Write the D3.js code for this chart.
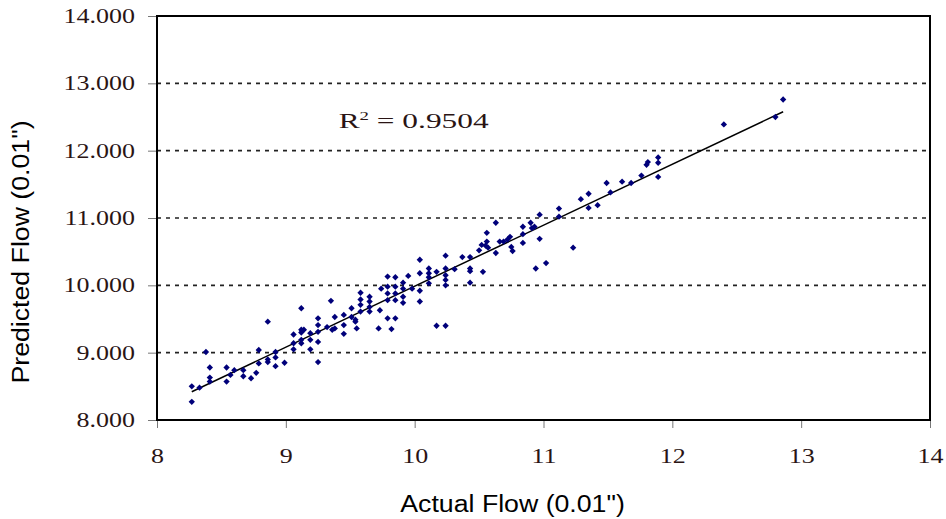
<!DOCTYPE html>
<html>
<head>
<meta charset="utf-8">
<script src="https://cdn.jsdelivr.net/npm/d3@7"></script>
<style>
  body { margin: 0; background: #fff; }
  svg { display: block; }
</style>
</head>
<body>
<div id="chart"></div>
<script>
// actual vs predicted flow
var actual = [8.27, 8.27, 8.33, 8.38, 8.41, 8.41, 8.41, 8.54, 8.54, 8.57,
    8.60, 8.67, 8.67, 8.73, 8.77, 8.79, 8.79, 8.86, 8.86, 8.86,
    8.92, 8.92, 8.92, 8.99, 9.06, 9.06, 9.06, 9.12, 9.12, 9.12,
    9.14, 9.12, 9.12, 9.19, 9.19, 9.19, 9.25, 9.25, 9.25, 9.25,
    9.25, 9.32, 9.35, 9.36, 9.38, 9.38, 9.45, 9.45, 9.45, 9.51,
    9.51, 9.54, 9.54, 9.55, 9.58, 9.58, 9.58, 9.58, 9.65, 9.65,
    9.65, 9.65, 9.72, 9.73, 9.74, 9.79, 9.79, 9.79, 9.79, 9.79,
    9.82, 9.85, 9.85, 9.85, 9.85, 9.85, 9.91, 9.91, 9.91, 9.91,
    9.95, 9.98, 10.04, 10.04, 10.04, 10.04, 10.11, 10.11, 10.11, 10.11,
    10.17, 10.17, 10.24, 10.24, 10.24, 10.24, 10.24, 10.24, 10.31, 10.37,
    10.43, 10.43, 10.43, 10.43, 10.50, 10.52, 10.55, 10.53, 10.56, 10.56,
    10.57, 10.63, 10.63, 10.66, 10.69, 10.72, 10.74, 10.75, 10.76, 10.84,
    10.84, 10.84, 10.90, 10.91, 10.93, 10.97, 10.97, 10.94, 11.02, 11.12,
    11.12, 11.23, 11.29, 11.35, 11.35, 11.42, 11.49, 11.52, 11.61, 11.68,
    11.76, 11.80, 11.81, 11.89, 11.89, 11.89, 12.40, 12.80, 12.86];
var predicted = [8.50, 8.27, 8.48, 9.01, 8.78, 8.63, 8.57, 8.78, 8.57, 8.67,
    8.74, 8.74, 8.65, 8.62, 8.70, 9.04, 8.84, 9.46, 8.90, 8.86,
    9.01, 8.93, 8.80, 8.85, 9.27, 9.14, 9.05, 9.66, 9.34, 9.30,
    9.34, 9.19, 9.14, 9.29, 9.19, 9.05, 9.51, 9.41, 9.31, 9.16,
    8.86, 9.38, 9.77, 9.34, 9.53, 9.36, 9.56, 9.41, 9.28, 9.66,
    9.53, 9.49, 9.46, 9.36, 9.89, 9.79, 9.71, 9.61, 9.83, 9.76,
    9.68, 9.61, 9.36, 9.63, 9.95, 10.13, 9.98, 9.88, 9.78, 9.51,
    9.35, 10.12, 9.98, 9.88, 9.78, 9.51, 10.04, 9.95, 9.83, 9.74,
    10.14, 9.95, 10.38, 10.18, 9.92, 9.76, 10.25, 10.18, 10.12, 10.03,
    10.20, 9.40, 10.44, 10.25, 10.15, 10.08, 10.00, 9.40, 10.24, 10.42,
    10.42, 10.25, 10.21, 10.04, 10.52, 10.60, 10.59, 10.20, 10.78, 10.65,
    10.56, 10.93, 10.48, 10.65, 10.65, 10.68, 10.72, 10.57, 10.51, 10.87,
    10.76, 10.63, 10.93, 10.85, 10.87, 11.05, 10.69, 10.25, 10.33, 11.14,
    11.02, 10.56, 11.28, 11.36, 11.15, 11.19, 11.52, 11.38, 11.54, 11.52,
    11.63, 11.79, 11.83, 11.90, 11.82, 11.61, 12.39, 12.50, 12.76];

// linear trend shown on the chart
var trendSlope = 0.906,
    trendIntercept = 0.927,
    rSquared = "0.9504";

var xTicks = [8, 9, 10, 11, 12, 13, 14];
var yTicks = [8, 9, 10, 11, 12, 13, 14];
var gridValues = [9, 10, 11, 12, 13];

var width = 946,
    height = 519,
    margin = {top: 16, right: 16, bottom: 99, left: 157},
    plotW = width - margin.left - margin.right,
    plotH = height - margin.top - margin.bottom;

var serifStretch = 1.3,
    sansStretch = 1.16,
    labelColor = "#2a1414";

var svg = d3.select("#chart").append("svg")
    .attr("width", width)
    .attr("height", height);

var g = svg.append("g")
    .attr("transform", "translate(" + margin.left + "," + margin.top + ")");

var x = d3.scaleLinear().domain([8, 14]).range([0, plotW]);
var y = d3.scaleLinear().domain([8, 14]).range([plotH, 0]);

// the source image is stretched sideways, mimic it with textLength
function stretch(sel, k) {
    sel.each(function() {
        var len = this.getComputedTextLength();
        d3.select(this)
            .attr("textLength", len * k)
            .attr("lengthAdjust", "spacingAndGlyphs");
    });
}

// dashed gridlines
g.append("g").selectAll("line")
    .data(gridValues)
    .enter().append("line")
    .attr("x1", 0)
    .attr("x2", plotW)
    .attr("y1", function(d) { return y(d); })
    .attr("y2", function(d) { return y(d); })
    .attr("stroke", "#222")
    .attr("stroke-width", 1.6)
    .attr("stroke-dasharray", "4,5");

// axes
var yAxis = g.append("g")
    .call(d3.axisLeft(y)
        .tickValues(yTicks)
        .tickSize(9)
        .tickPadding(13)
        .tickFormat(d3.format(".3f")));
var xAxis = g.append("g")
    .attr("transform", "translate(0," + plotH + ")")
    .call(d3.axisBottom(x)
        .tickValues(xTicks)
        .tickSize(8)
        .tickPadding(21)
        .tickFormat(d3.format("d")));

[yAxis, xAxis].forEach(function(a) {
    a.select(".domain").remove();
    a.selectAll(".tick line").attr("stroke", "#777").attr("stroke-width", 1);
    a.selectAll(".tick text")
        .attr("fill", labelColor)
        .style("font-family", "'Liberation Serif', 'Times New Roman', serif")
        .style("font-size", "20px");
});
stretch(yAxis.selectAll(".tick text"), serifStretch);
stretch(xAxis.selectAll(".tick text"), serifStretch);

// plot frame
g.append("rect")
    .attr("x", 0)
    .attr("y", 0)
    .attr("width", plotW)
    .attr("height", plotH)
    .attr("fill", "none")
    .attr("stroke", "#000")
    .attr("stroke-width", 2);

// trend line over the range of the data
var xExt = d3.extent(actual);
g.append("line")
    .attr("x1", x(xExt[0]))
    .attr("y1", y(trendSlope * xExt[0] + trendIntercept))
    .attr("x2", x(xExt[1]))
    .attr("y2", y(trendSlope * xExt[1] + trendIntercept))
    .attr("stroke", "#000")
    .attr("stroke-width", 1.5);

// diamond markers
var diamond = d3.symbol().type(d3.symbolSquare).size(20);
g.append("g").selectAll("path")
    .data(actual)
    .enter().append("path")
    .attr("d", diamond)
    .attr("transform", function(d, i) {
        return "translate(" + x(d) + "," + y(predicted[i]) + ") rotate(45)";
    })
    .attr("fill", "#00007a");

// R squared annotation
var r2 = g.append("text")
    .attr("x", x(9.41))
    .attr("y", y(12.34))
    .attr("fill", labelColor)
    .style("font-family", "'Liberation Serif', 'Times New Roman', serif")
    .style("font-size", "20px");
r2.append("tspan").text("R");
r2.append("tspan").attr("dy", -8).style("font-size", "12px").text("2");
r2.append("tspan").attr("dy", 8).text(" = " + rSquared);
r2.attr("textLength", 150).attr("lengthAdjust", "spacingAndGlyphs");

// axis titles
var xTitle = svg.append("text")
    .attr("x", margin.left + plotW * 0.46)
    .attr("y", 512)
    .attr("text-anchor", "middle")
    .attr("fill", "#000")
    .style("font-family", "'Liberation Sans', Arial, sans-serif")
    .style("font-size", "23px")
    .text("Actual Flow (0.01\")");
stretch(xTitle, sansStretch);

var yTitle = svg.append("text")
    .attr("transform", "translate(29," + 252 + ") rotate(-90)")
    .attr("text-anchor", "middle")
    .attr("fill", "#000")
    .style("font-family", "'Liberation Sans', Arial, sans-serif")
    .style("font-size", "23px")
    .text("Predicted Flow (0.01\")");
stretch(yTitle, sansStretch);
</script>
</body>
</html>
